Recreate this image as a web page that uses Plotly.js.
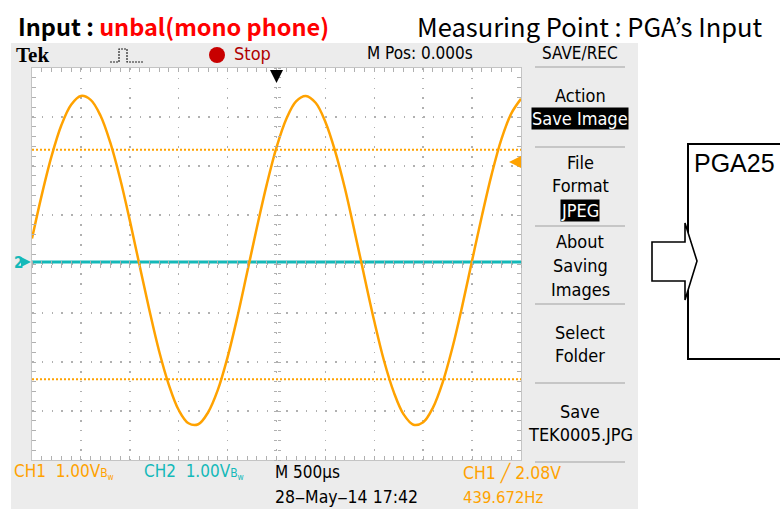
<!DOCTYPE html>
<html><head><meta charset="utf-8">
<script src="https://cdn.plot.ly/plotly-3.0.1.min.js"></script>
<style>html,body{margin:0;padding:0;background:#fff}</style>
</head><body><div id="chart" style="width:780px;height:511px"></div>
<script>
// ---- data ----
const timeMs = [-2.5,-2.4,-2.3,-2.2,-2.1,-2.0,-1.9,-1.8,-1.7,-1.6,-1.5,-1.4,-1.3,-1.2,-1.1,-1.0,-0.9,-0.8,-0.7,-0.6,-0.5,-0.4,-0.3,-0.2,-0.1,0.0,0.1,0.2,0.3,0.4,0.5,0.6,0.7,0.8,0.9,1.0,1.1,1.2,1.3,1.4,1.5,1.6,1.7,1.8,1.9,2.0,2.1,2.2,2.3,2.4,2.5];
const ch1Volts = [0.52,1.41,2.20,2.83,3.25,3.43,3.35,3.03,2.48,1.75,0.89,-0.03,-0.94,-1.78,-2.47,-2.98,-3.25,-3.27,-3.03,-2.57,-1.90,-1.08,-0.17,0.75,1.62,2.38,2.96,3.32,3.43,3.29,2.90,2.30,1.54,0.65,-0.27,-1.17,-1.98,-2.62,-3.07,-3.28,-3.23,-2.93,-2.41,-1.70,-0.85,0.07,0.98,1.83,2.55,3.07,3.37];
const ch2Time = [-2.5, 2.5];
const ch2Volts = [0.04, 0.04];
const cursorVolts = [2.33, -2.35];
const triggerLevel = 2.08;
const menuLabels = ["Action","Save Image","File","Format","JPEG","About","Saving","Images","Select","Folder","Save","TEK0005.JPG"];
const menuInverted = [false,true,false,false,true,false,false,false,false,false,false,false];

// ---- layout helpers ----
const L=32, R=521, T=68, B=460;
const px = x => (x-L)/(R-L);
const py = y => (B-y)/(B-T);
const ORANGE='#ffa200', CYAN='#14b9b9', GRID='#b0b0b0';
const tekFont = "'Liberation Sans Narrow','DejaVu Sans Condensed','Roboto Condensed',Roboto,sans-serif";
const jpFont = "'Noto Sans CJK JP','Noto Sans',sans-serif";

const traces = [];
cursorVolts.forEach(v => traces.push({x:[timeMs[0], timeMs[timeMs.length-1]], y:[v,v], mode:'lines', line:{color:ORANGE,width:2,dash:'2px,2px'}, hoverinfo:'skip', showlegend:false}));
traces.push({x:ch2Time, y:ch2Volts, mode:'lines', line:{color:CYAN,width:3}, hoverinfo:'skip', showlegend:false});
traces.push({x:timeMs, y:ch1Volts, mode:'lines', line:{color:ORANGE,width:2.5,shape:'spline'}, hoverinfo:'skip', showlegend:false});
// invisible traces so the centre-tick axes are drawn
[['x2','y'],['x3','y'],['x','y2'],['x','y3']].forEach(([xa,ya]) => traces.push({x:[0],y:[0],xaxis:xa,yaxis:ya,mode:'markers',marker:{opacity:0},hoverinfo:'skip',showlegend:false}));

const baseX = {range:[-2.5,2.5], showticklabels:false, zeroline:false, fixedrange:true};
const baseY = {range:[-4,4], showticklabels:false, zeroline:false, fixedrange:true};
const cTick = {showgrid:false, showline:false, ticks:'outside', ticklen:3, tickwidth:1, tickcolor:GRID};

const shapes = [
  {type:'rect', xref:'paper', yref:'paper', x0:px(11), x1:px(638), y0:py(509), y1:py(43), fillcolor:'#ececec', line:{width:0}, layer:'below'},
  {type:'rect', xref:'paper', yref:'paper', x0:0, x1:1, y0:0, y1:1, fillcolor:'#ffffff', line:{width:0}, layer:'below'},
  // red stop dot
  {type:'circle', xref:'paper', yref:'paper', x0:px(209), x1:px(225), y0:py(63), y1:py(47), fillcolor:'#c80000', line:{width:0}},
  // trigger icon
  {type:'path', xref:'paper', yref:'paper', path:`M${px(110)},${py(62)} L${px(119)},${py(62)} L${px(119)},${py(49)} L${px(127)},${py(49)} L${px(127)},${py(62)} L${px(144)},${py(62)}`, line:{color:'#222',width:1.2,dash:'2px,1px'}},
  // PGA block
  {type:'rect', xref:'paper', yref:'paper', x0:px(688), x1:px(800), y0:py(359), y1:py(144), fillcolor:'#ffffff', line:{color:'#000',width:2}},
  {type:'path', xref:'paper', yref:'paper', path:`M${px(652)},${py(242)} L${px(685)},${py(242)} L${px(685)},${py(223)} L${px(697)},${py(261)} L${px(685)},${py(300)} L${px(685)},${py(281)} L${px(652)},${py(281)} Z`, fillcolor:'#ffffff', line:{color:'#000',width:1.6}}
];
[67,147,226,304,383,462].forEach(y => shapes.push({type:'line', xref:'paper', yref:'paper', x0:px(535), x1:px(625), y0:py(y), y1:py(y), line:{color:'#a0a0a0', width:1}}));

const ann = [];
const txt = (x,y,text,opts) => ann.push(Object.assign({xref:'paper', yref:'paper', x:px(x), y:py(y), text, showarrow:false, xanchor:'left', yanchor:'middle', font:{family:tekFont, size:17, color:'#000'}}, opts||{}));
txt(14,55,'<b>Tek</b>',{font:{family:"'Liberation Serif','DejaVu Serif',serif", size:21, color:'#000'}});
txt(232,54,'Stop',{font:{family:tekFont,size:18,color:'#b00000'}});
txt(365,53,'M Pos: 0.000s');
txt(580,53,'SAVE/REC',{xanchor:'center'});
const menuY = [95,119,162,186,210,241,265,289,332,355,411,434];
menuLabels.forEach((m,i) => txt(580, menuY[i], m, {xanchor:'center', font:{family:tekFont,size:18,color: menuInverted[i]?'#fff':'#000'}, bgcolor: menuInverted[i]?'#000':'rgba(0,0,0,0)', borderpad:0}));
const bw = '<span style="font-size:12px">B<sub>w</sub></span>';
txt(12,472,'CH1  1.00V'+bw,{font:{family:tekFont,size:17,color:ORANGE}});
txt(142,472,'CH2  1.00V'+bw,{font:{family:tekFont,size:17,color:CYAN}});
txt(273,472,'M 500µs');
txt(273,497,'28‒May‒14 17:42',{font:{family:tekFont,size:17.5,color:'#000'}});
txt(461,473,'CH1 ╱ 2.08V',{font:{family:tekFont,size:17.5,color:ORANGE}});
txt(461,497,'439.672Hz',{font:{family:tekFont,size:16.5,color:ORANGE}});
txt(12,263,'<b>2</b>',{font:{family:tekFont,size:15,color:CYAN}});
txt(415,26,'Measuring Point : PGA’s Input',{font:{family:jpFont,size:25.5,color:'#000'}});
txt(692,163,'PGA25',{font:{family:"'Liberation Sans',Arial,sans-serif",size:25,color:'#000'}});
// markers
ann.push({xref:'paper', yref:'y', x:px(31), y:ch2Volts[0], ax:-10, ay:0, text:'', showarrow:true, arrowhead:2, arrowsize:1, arrowwidth:2, arrowcolor:CYAN});
ann.push({xref:'paper', yref:'y', x:px(509), y:triggerLevel, ax:12, ay:0, text:'', showarrow:true, arrowhead:2, arrowsize:1.2, arrowwidth:2, arrowcolor:ORANGE});
ann.push({xref:'x', yref:'paper', x:0, y:py(83), ax:0, ay:-14, text:'', showarrow:true, arrowhead:2, arrowsize:1.3, arrowwidth:2, arrowcolor:'#000'});

const layout = {
  width:780, height:511, autosize:false,
  margin:{l:L, r:780-R, t:T, b:511-B, pad:0},
  paper_bgcolor:'#ffffff', plot_bgcolor:'#ffffff',
  showlegend:false,
  title:{text:'<b>Input : <span style="color:#ff0000">unbal(mono phone)</span></b>', x:18/780, xref:'container', xanchor:'left', y:1-28/511, yref:'container', yanchor:'middle', font:{family:jpFont, size:23.5, color:'#000'}},
  xaxis:Object.assign({}, baseX, {dtick:0.5, tick0:0, showgrid:true, gridcolor:GRID, gridwidth:1.5, griddash:'1.5px,8.28px', showline:true, linecolor:'#c4c4c4', linewidth:1, mirror:'ticks', ticks:'inside', ticklen:4, tickcolor:GRID, minor:{dtick:0.1, ticks:'inside', ticklen:4, tickcolor:GRID, showgrid:false}}),
  yaxis:Object.assign({}, baseY, {dtick:1, tick0:0, showgrid:true, gridcolor:GRID, gridwidth:1.5, griddash:'1.5px,8.28px', showline:true, linecolor:'#c4c4c4', linewidth:1, mirror:'ticks', ticks:'inside', ticklen:4, tickcolor:GRID, minor:{dtick:0.2, ticks:'inside', ticklen:4, tickcolor:GRID, showgrid:false}}),
  xaxis2:Object.assign({}, baseX, cTick, {overlaying:'x', anchor:'free', position:0.5, side:'bottom', dtick:0.1, tick0:0}),
  xaxis3:Object.assign({}, baseX, cTick, {overlaying:'x', anchor:'free', position:0.5, side:'top', dtick:0.1, tick0:0}),
  yaxis2:Object.assign({}, baseY, cTick, {overlaying:'y', anchor:'free', position:0.5, side:'left', dtick:0.2, tick0:0}),
  yaxis3:Object.assign({}, baseY, cTick, {overlaying:'y', anchor:'free', position:0.5, side:'right', dtick:0.2, tick0:0}),
  shapes, annotations:ann
};
Plotly.newPlot('chart', traces, layout, {staticPlot:true, displayModeBar:false});
</script></body></html>
